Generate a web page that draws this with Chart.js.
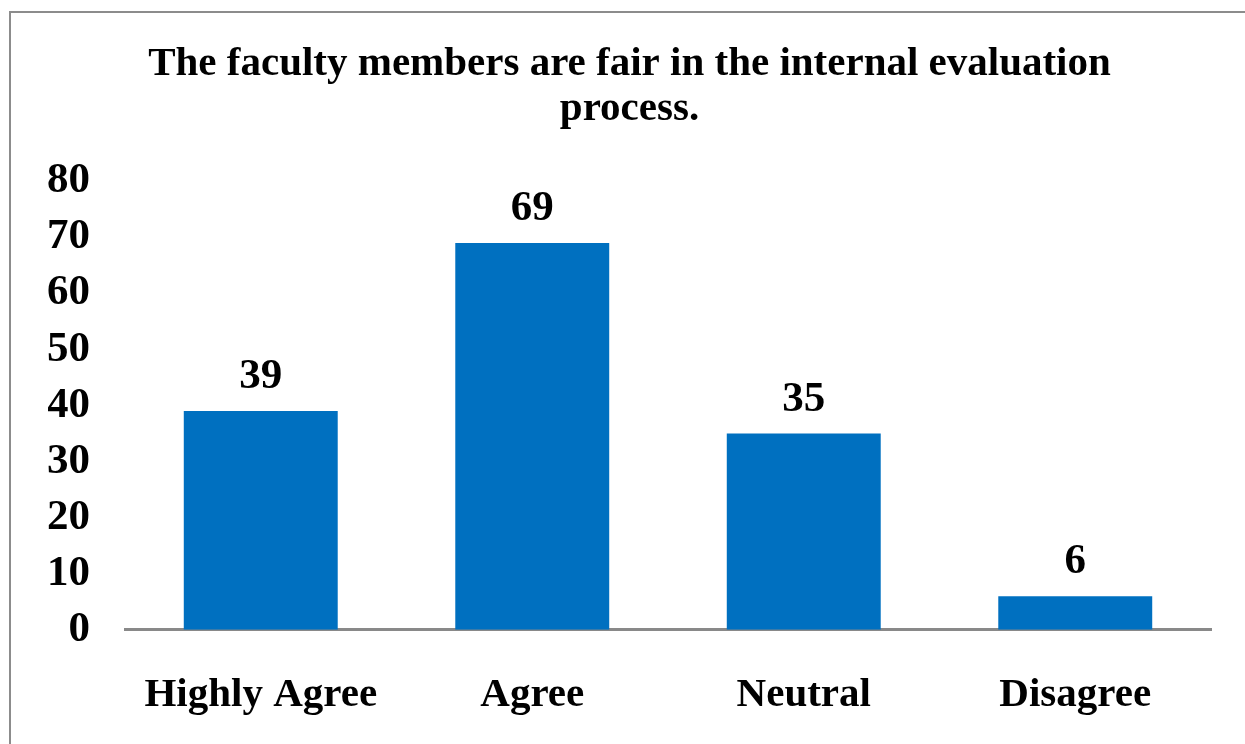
<!DOCTYPE html>
<html>
<head>
<meta charset="utf-8">
<script src="https://cdn.jsdelivr.net/npm/chart.js@4.4.1/dist/chart.umd.min.js"></script>
<style>
  html, body { margin: 0; padding: 0; background: #fff; overflow: hidden; }
  #wrap { position: relative; width: 1245px; height: 744px; }
  #frame { position: absolute; left: 9px; top: 11px; width: 1300px; height: 800px;
           border: 2px solid #8c8c8c; box-sizing: border-box; pointer-events: none; }
  canvas { position: absolute; left: 0; top: 0; }
</style>
</head>
<body>
<div id="wrap">
  <canvas id="chart" width="1245" height="744"></canvas>
  <div id="frame"></div>
</div>
<script>
const categories = ['Highly Agree', 'Agree', 'Neutral', 'Disagree'];
const counts = [39, 69, 35, 6];
const titleLines = ['The faculty members are fair in the internal evaluation', 'process.'];

const FONT = '"Liberation Serif", "Times New Roman", serif';

// value labels above each bar
const barValues = {
  id: 'barValues',
  afterDatasetsDraw(chart) {
    const ctx = chart.ctx;
    const meta = chart.getDatasetMeta(0);
    ctx.save();
    ctx.font = 'bold 43px ' + FONT;
    ctx.fillStyle = '#000';
    ctx.textAlign = 'center';
    ctx.textBaseline = 'alphabetic';
    meta.data.forEach((bar, i) => {
      ctx.fillText(String(counts[i]), bar.x, bar.y - 23);
    });
    ctx.restore();
  }
};

new Chart(document.getElementById('chart'), {
  type: 'bar',
  data: {
    labels: categories,
    datasets: [{
      data: counts,
      backgroundColor: '#0070C0',
      borderWidth: 0,
      barPercentage: 0.567,
      categoryPercentage: 1,
    }],
  },
  options: {
    responsive: false,
    animation: false,
    // extra left padding shifts the title right; the y axis gives it back in afterFit
    layout: { padding: { left: 48, right: 34, top: 42, bottom: -17 } },
    plugins: {
      legend: { display: false },
      tooltip: { enabled: false },
      title: {
        display: true,
        text: titleLines,
        color: '#000',
        font: { family: FONT, size: 41, weight: 'bold', lineHeight: 1.1 },
        padding: { top: 0, bottom: 49 },
      },
    },
    scales: {
      x: {
        grid: { display: false, drawTicks: false },
        border: { display: true, color: '#898989', width: 3 },
        ticks: { color: '#000', padding: 41, font: { family: FONT, size: 41, weight: 'bold' } },
      },
      y: {
        min: 0,
        max: 80,
        grid: { display: false, drawTicks: false },
        border: { display: false },
        ticks: { stepSize: 10, color: '#000', padding: 35, font: { family: FONT, size: 43, weight: 'bold' } },
        afterFit(scale) { scale.width -= 36; },
      },
    },
  },
  plugins: [barValues],
});
</script>
</body>
</html>
